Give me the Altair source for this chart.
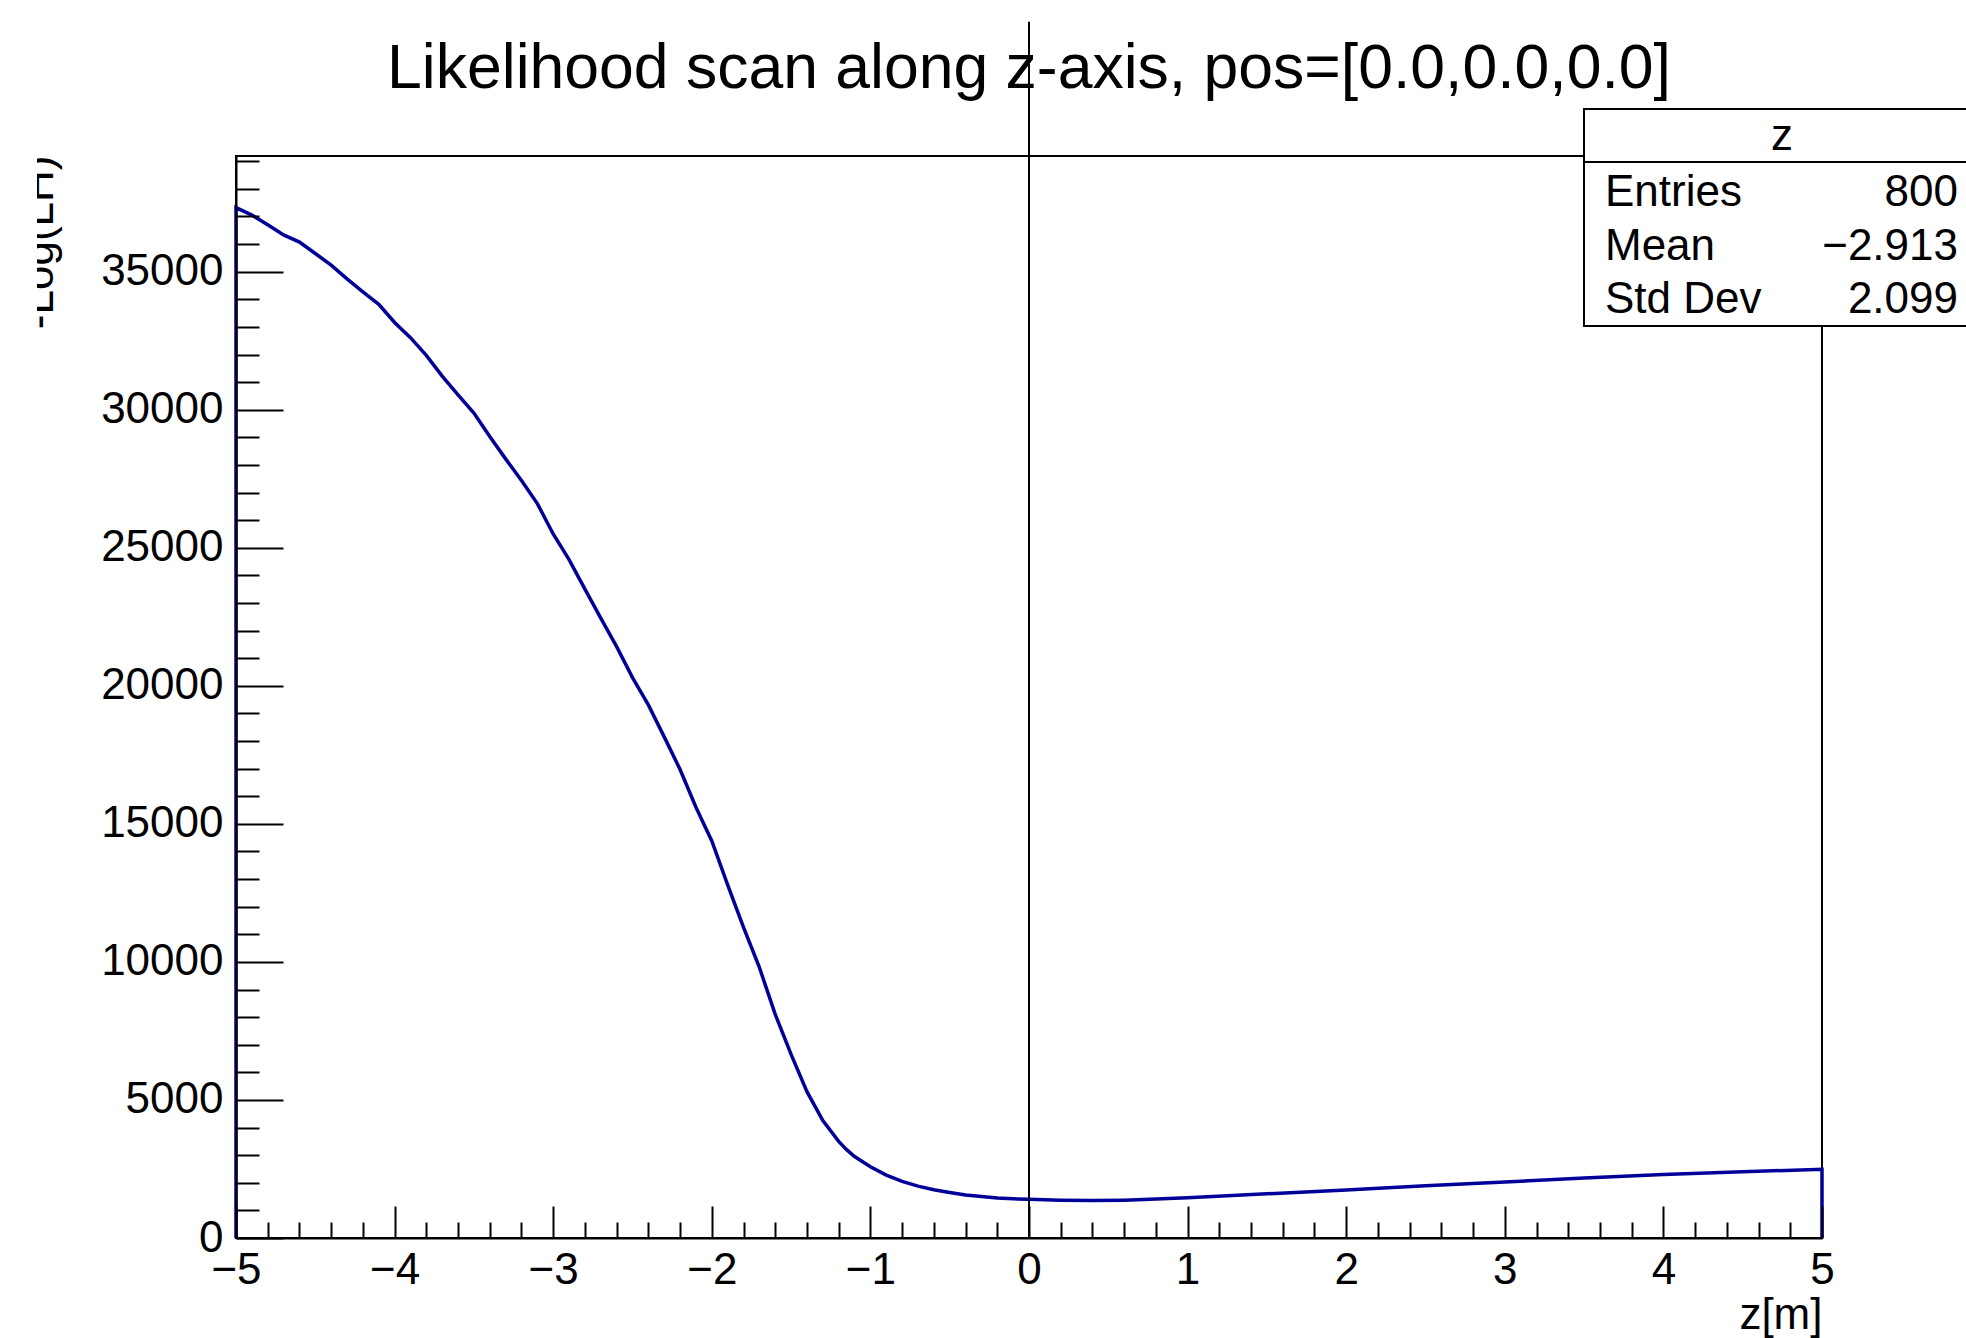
import altair as alt
import pandas as pd

# ---------------- data ----------------
z_vals = [-5.0, -5.0, -4.9, -4.8, -4.7, -4.6, -4.5, -4.4, -4.3, -4.2, -4.1, -4.0,
          -3.9, -3.8, -3.7, -3.6, -3.5, -3.4, -3.3, -3.2, -3.1, -3.0,
          -2.9, -2.8, -2.7, -2.6, -2.5, -2.4, -2.3, -2.2, -2.1, -2.0,
          -1.9, -1.8, -1.7, -1.6, -1.5, -1.4, -1.3, -1.2, -1.15, -1.1, -1.0,
          -0.9, -0.8, -0.7, -0.6, -0.5, -0.4, -0.3, -0.2, -0.1, 0.0,
          0.2, 0.4, 0.6, 0.8, 1.0, 1.5, 2.0, 2.5, 3.0, 3.5, 4.0, 4.5, 5.0, 5.0]
nll_vals = [0, 37320, 37050, 36700, 36330, 36070, 35660, 35240, 34740, 34270, 33820, 33160,
            32610, 31970, 31220, 30540, 29880, 29030, 28220, 27440, 26600, 25500,
            24570, 23500, 22450, 21420, 20300, 19310, 18150, 16970, 15600, 14380,
            12790, 11250, 9800, 8100, 6650, 5300, 4250, 3500, 3200, 2950, 2580,
            2280, 2050, 1880, 1750, 1650, 1560, 1500, 1450, 1420, 1400,
            1370, 1355, 1370, 1410, 1455, 1600, 1740, 1890, 2030, 2170, 2300, 2400, 2490, 0]

x_major = [-5, -4, -3, -2, -1, 0, 1, 2, 3, 4, 5]
x_minor = [round(-5 + 0.2 * i, 1) for i in range(51) if i % 5 != 0]
y_major = [0, 5000, 10000, 15000, 20000, 25000, 30000, 35000]
y_minor = [v for v in range(1000, 40000, 1000) if v % 5000 != 0]

title_text = "Likelihood scan along z-axis, pos=[0.0,0.0,0.0]"
x_title = "z[m]"
y_title = "-Log(LH)"

vline_x = [0]
vline_y0 = [0]
vline_y1 = [44050]

stats_header = "z"
stats_names = ["Entries", "Mean", "Std Dev"]
stats_values = ["800", "\u22122.913", "2.099"]

# ---------------- layout constants ----------------
W, H = 1586, 1082
FONT = "Liberation Sans"
LINE_COLOR = "#000099"
ROW_Y = [49.5, 103.5, 157]

curve_df = pd.DataFrame({"z": z_vals, "nll": nll_vals, "i": list(range(len(z_vals)))})

xs = alt.Scale(domain=[-5, 5], nice=False, zero=False)
ys = alt.Scale(domain=[0, 39190], nice=False, zero=False)

base = alt.Chart(curve_df)

curve = base.mark_line(color=LINE_COLOR, strokeWidth=3.5).encode(
    x=alt.X("z:Q", scale=xs, axis=alt.Axis(
        orient="bottom", values=x_major, format="d", ticks=False, tickSize=0,
        domain=False, grid=False, labelFont=FONT, labelFontSize=44, labelColor="black",
        labelBaseline="alphabetic", labelPadding=45, labelFlush=False, labelAlign="center",
        title=x_title, titleFont=FONT, titleFontSize=44, titleFontWeight="normal",
        titleColor="black", titleX=W, titleY=90, titleAlign="right",
        titleBaseline="alphabetic")),
    y=alt.Y("nll:Q", scale=ys, axis=alt.Axis(
        orient="left", values=y_major, format="d", ticks=False, tickSize=0,
        domain=False, grid=False, labelFont=FONT, labelFontSize=44, labelColor="black",
        labelPadding=13, labelFlush=False, labelBaseline="middle",
        title=y_title, titleFont=FONT, titleFontSize=44, titleFontWeight="normal",
        titleColor="black", titleAngle=270, titleX=-184, titleY=-1,
        titleAlign="right", titleBaseline="alphabetic")),
    order=alt.Order("i:Q"),
)


def tick_layer(xv, yv, xlen, ylen, with_domain):
    return base.mark_line(strokeOpacity=0).encode(
        x=alt.X("z:Q", scale=xs, axis=alt.Axis(
            orient="top", offset=-H, values=xv, labels=False, ticks=True,
            tickSize=xlen, tickWidth=2, tickColor="black", domain=with_domain,
            domainColor="black", domainWidth=2, grid=False, title=None, zindex=1)),
        y=alt.Y("nll:Q", scale=ys, axis=alt.Axis(
            orient="right", offset=-W, values=yv, labels=False, ticks=True,
            tickSize=ylen, tickWidth=2, tickColor="black", domain=with_domain,
            domainColor="black", domainWidth=2, grid=False, title=None, zindex=1)),
        order=alt.Order("i:Q"),
    )


ticks_major = tick_layer(x_major, y_major, 32, 47, True)
ticks_minor = tick_layer(x_minor, y_minor, 16, 23, False)

one = pd.DataFrame({"k": [0]})

title_mark = alt.Chart(one).mark_text(
    text=title_text, font=FONT, fontSize=62.5, color="black",
    align="center", baseline="alphabetic").encode(
    x=alt.value(W / 2), y=alt.value(-68))

vline_df = pd.DataFrame({"x": vline_x, "y0": vline_y0, "y1": vline_y1})
vline = alt.Chart(vline_df).mark_rule(color="black", strokeWidth=2).encode(
    x=alt.X("x:Q", scale=xs, axis=None),
    y=alt.Y("y0:Q", scale=ys, axis=None),
    y2="y1:Q",
)

# white mask that clips the upper part of the y title (as in the reference)
mask = alt.Chart(one).mark_rect(fill="white").encode(
    x=alt.value(-245), x2=alt.value(-199), y=alt.value(-20), y2=alt.value(200))

box = alt.Chart(one).mark_rect(fill="white", stroke="black", strokeWidth=2).encode(
    x=alt.value(1348), x2=alt.value(1770), y=alt.value(-47), y2=alt.value(170))
sep = alt.Chart(one).mark_rule(color="black", strokeWidth=2).encode(
    x=alt.value(1348), x2=alt.value(1770), y=alt.value(6))

header = alt.Chart(one).mark_text(
    text=stats_header, font=FONT, fontSize=44, color="black",
    align="center", baseline="alphabetic").encode(
    x=alt.value(1546), y=alt.value(-6))

stat_layers = []
for idx, (nm, vl) in enumerate(zip(stats_names, stats_values)):
    row = pd.DataFrame({"name": [nm], "val": [vl]})
    ypos = ROW_Y[idx]
    stat_layers.append(alt.Chart(row).mark_text(
        font=FONT, fontSize=44, color="black", align="left", baseline="alphabetic").encode(
        text="name:N", x=alt.value(1369), y=alt.value(ypos)))
    stat_layers.append(alt.Chart(row).mark_text(
        font=FONT, fontSize=44, color="black", align="right", baseline="alphabetic").encode(
        text="val:N", x=alt.value(1722), y=alt.value(ypos)))

chart = alt.layer(
    title_mark, curve, ticks_major, ticks_minor, vline, mask, box, sep, header, *stat_layers
).resolve_axis(
    x="independent", y="independent"
).properties(
    width=W, height=H,
    padding={"left": 236, "top": 156, "right": 144, "bottom": 100},
    autosize=alt.AutoSizeParams(type="none"),
    background="white",
).configure_view(
    stroke="black", strokeWidth=2
)

chart.save("out.html", embed_options={"renderer": "svg", "actions": False})
